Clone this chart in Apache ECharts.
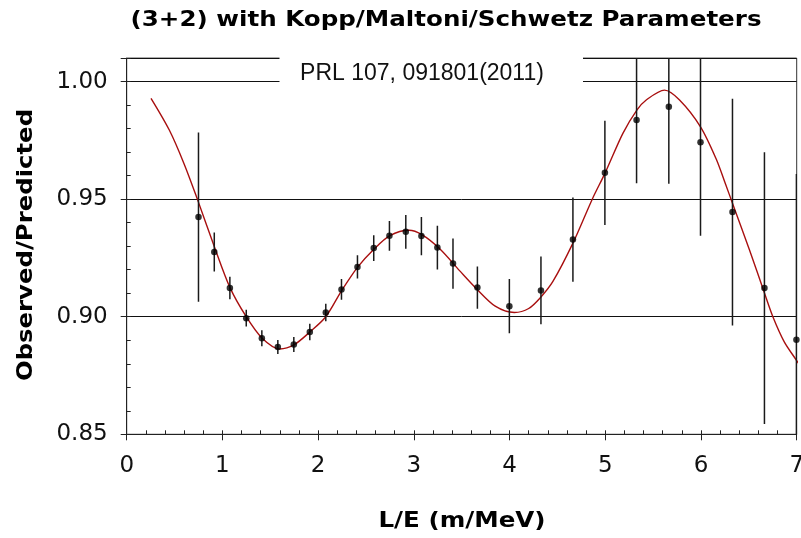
<!DOCTYPE html>
<html>
<head>
<meta charset="utf-8">
<style>html,body{margin:0;padding:0;background:#fff;}#chart{width:801px;height:538px;}</style>
<script src="https://cdn.jsdelivr.net/npm/echarts@6/dist/echarts.min.js"></script>
</head>
<body>
<div id="chart"></div>
<script>
// Data points: L/E (m/MeV), observed/predicted ratio, error
const leValues = [0.750, 0.915, 1.078, 1.249, 1.412, 1.579, 1.746, 1.913, 2.080, 2.244, 2.411, 2.581, 2.745, 2.916, 3.079, 3.246, 3.409, 3.664, 3.998, 4.328, 4.662, 4.996, 5.327, 5.664, 5.995, 6.329, 6.663, 6.997];
const ratioValues = [0.9424, 0.9275, 0.9122, 0.8994, 0.8908, 0.8871, 0.8882, 0.8935, 0.9018, 0.9116, 0.9212, 0.9292, 0.9344, 0.9361, 0.9343, 0.9294, 0.9226, 0.9124, 0.9045, 0.9112, 0.9328, 0.9612, 0.9837, 0.9893, 0.9742, 0.9445, 0.9122, 0.8902];
const errorValues = [0.0360, 0.0083, 0.0048, 0.0036, 0.0034, 0.0030, 0.0032, 0.0035, 0.0037, 0.0044, 0.0049, 0.0055, 0.0063, 0.0072, 0.0081, 0.0093, 0.0107, 0.0090, 0.0115, 0.0144, 0.0179, 0.0222, 0.0269, 0.0327, 0.0398, 0.0482, 0.0578, 0.0705];
// (3+2) fit curve
const curveX = [0.254, 0.445, 0.600, 0.741, 0.915, 1.078, 1.249, 1.412, 1.600, 1.746, 1.913, 2.080, 2.244, 2.411, 2.585, 2.750, 2.950, 3.080, 3.270, 3.480, 3.664, 3.850, 4.050, 4.200, 4.328, 4.453, 4.662, 4.864, 5.000, 5.184, 5.330, 5.428, 5.619, 5.776, 5.995, 6.160, 6.260, 6.329, 6.506, 6.663, 6.750, 6.870, 6.994, 7.030];
const curveY = [0.9929, 0.9794, 0.9650, 0.9497, 0.9299, 0.9125, 0.9000, 0.8910, 0.8863, 0.8880, 0.8935, 0.9000, 0.9110, 0.9210, 0.9288, 0.9345, 0.9368, 0.9350, 0.9289, 0.9195, 0.9115, 0.9045, 0.9018, 0.9035, 0.9084, 0.9150, 0.9313, 0.9500, 0.9613, 0.9780, 0.9879, 0.9922, 0.9964, 0.9922, 0.9808, 0.9670, 0.9560, 0.9483, 0.9285, 0.9101, 0.9001, 0.8893, 0.8817, 0.8795];
// Axis ticks
const xTickLabels = ['0', '1', '2', '3', '4', '5', '6', '7'];
const yTickLabels = ['0.85', '0.90', '0.95', '1.00'];
const titleText = '(3+2) with Kopp/Maltoni/Schwetz Parameters';
const legendText = 'PRL 107, 091801(2011)';
const xTitle = 'L/E (m/MeV)';
const yTitle = 'Observed/Predicted';

const pointData = leValues.map((x, i) => [x, ratioValues[i]]);
const errData = leValues.map((x, i) => [x, ratioValues[i] - errorValues[i], ratioValues[i] + errorValues[i]]);
const curveData = curveX.map((x, i) => [x, curveY[i]]);

const chart = echarts.init(document.getElementById('chart'), null, {renderer: 'canvas'});
const axisColor = '#222';
const font = 'DejaVu Sans';
const boldFont = 'bold 21px "DejaVu Sans"';
chart.setOption({
  animation: false,
  backgroundColor: '#fff',
  grid: {left: 126.7, right: 4.3, top: 58.1, bottom: 103.7, outerBoundsMode: 'none', containLabel: false,
    show: true, borderColor: '#333', borderWidth: 1, backgroundColor: 'transparent'},
  xAxis: [{
    type: 'value', min: 0, max: 7, interval: 1, position: 'bottom',
    axisLine: {show: true, onZero: false, lineStyle: {color: axisColor, width: 1}},
    axisTick: {show: true, inside: false, length: 6, lineStyle: {color: axisColor}},
    axisLabel: {show: true, margin: 20, fontFamily: font, fontSize: 23, color: '#111', hideOverlap: false,
      formatter: v => { const s = String(Math.round(v)); return xTickLabels.includes(s) && Math.abs(v - Math.round(v)) < 1e-6 ? s : ''; }},
    splitLine: {show: false}
  }, {
    type: 'value', min: 0, max: 7, interval: 0.2, position: 'bottom',
    axisLine: {show: false, onZero: false},
    axisTick: {show: true, inside: true, length: 4, lineStyle: {color: axisColor}},
    axisLabel: {show: false}, splitLine: {show: false}
  }],
  yAxis: [{
    type: 'value', min: 0.85, max: 1.01, interval: 0.05, position: 'left',
    axisLine: {show: true, onZero: false, lineStyle: {color: axisColor, width: 1}},
    axisTick: {show: true, inside: false, length: 6, lineStyle: {color: axisColor}},
    axisLabel: {show: true, margin: 19, fontFamily: font, fontSize: 23, color: '#111',
      formatter: v => { const s = v.toFixed(2); return yTickLabels.includes(s) ? s : ''; }},
    splitLine: {show: true, lineStyle: {color: '#111', width: 1}}
  }, {
    type: 'value', min: 0.85, max: 1.01, interval: 0.01, position: 'left',
    axisLine: {show: false, onZero: false},
    axisTick: {show: true, inside: true, length: 4, lineStyle: {color: axisColor}},
    axisLabel: {show: false}, splitLine: {show: false}
  }],
  series: [{
    type: 'line', data: curveData, smooth: 0.3, showSymbol: false, clip: true,
    lineStyle: {color: '#a80f0f', width: 1.4}, z: 2
  }, {
    type: 'custom', data: errData, clip: true, z: 3,
    renderItem: (params, api) => {
      const lo = api.coord([api.value(0), api.value(1)]);
      const hi = api.coord([api.value(0), api.value(2)]);
      return {type: 'line', shape: {x1: lo[0], y1: lo[1], x2: hi[0], y2: hi[1]}, style: {stroke: '#1a1a1a', lineWidth: 1.5}};
    },
    encode: {x: 0, y: [1, 2]}
  }, {
    type: 'scatter', data: pointData, symbol: 'circle', symbolSize: 6.5, clip: true,
    itemStyle: {color: '#000'}, z: 4
  }],
  graphic: [
    {type: 'rect', z: 100, shape: {x: 279.5, y: 54, width: 303.5, height: 34}, style: {fill: '#fff'}},
    {type: 'text', z: 101, x: 422, y: 74, style: {text: legendText, font: '23px "Liberation Sans"', fill: '#111', textAlign: 'center', textVerticalAlign: 'middle'}},
    {type: 'text', z: 101, x: 446, y: 21, scaleX: 1.17, style: {text: titleText, font: boldFont, fill: '#000', textAlign: 'center', textVerticalAlign: 'middle'}},
    {type: 'text', z: 101, x: 462, y: 522, scaleX: 1.17, style: {text: xTitle, font: boldFont, fill: '#000', textAlign: 'center', textVerticalAlign: 'middle'}},
    {type: 'text', z: 101, x: 27, y: 245, rotation: Math.PI / 2, scaleX: 1.16, style: {text: yTitle, font: boldFont, fill: '#000', textAlign: 'center', textVerticalAlign: 'middle'}}
  ]
});
</script>
</body>
</html>
